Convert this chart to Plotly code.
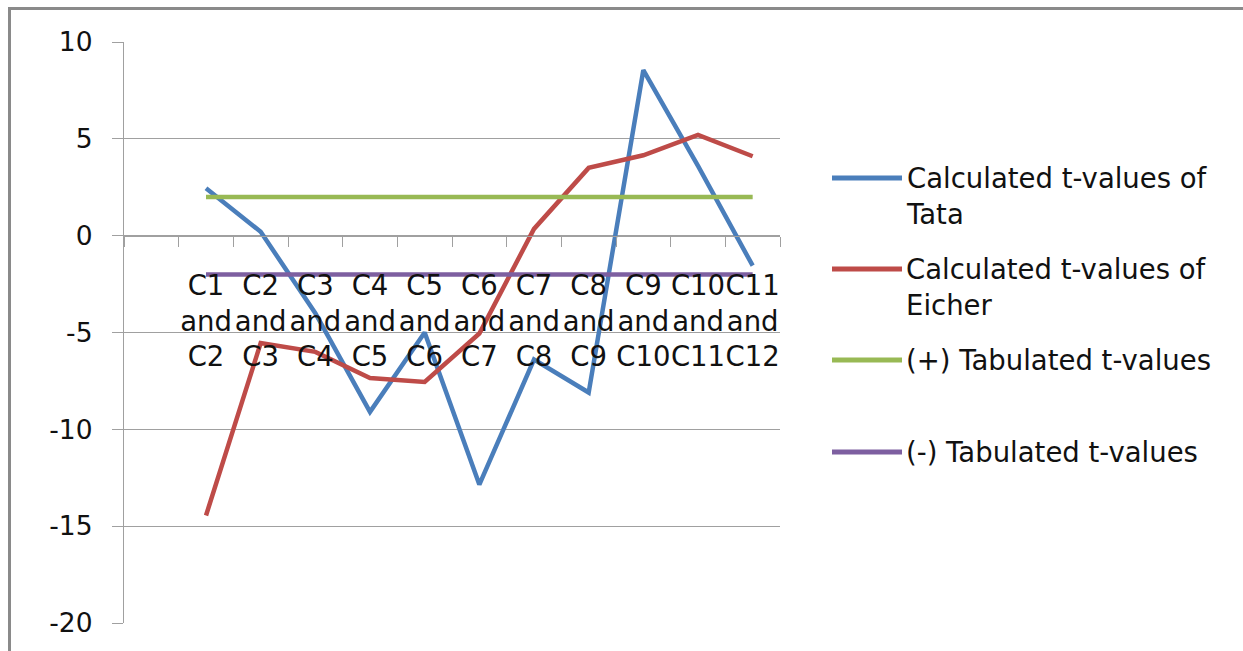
import plotly.graph_objects as go

# Comparison pairs on the category axis
pairs = ["C1<br>and<br>C2", "C2<br>and<br>C3", "C3<br>and<br>C4", "C4<br>and<br>C5",
         "C5<br>and<br>C6", "C6<br>and<br>C7", "C7<br>and<br>C8", "C8<br>and<br>C9",
         "C9<br>and<br>C10", "C10<br>and<br>C11", "C11<br>and<br>C12"]

tata_t = [2.45, 0.2, -4.0, -9.1, -5.0, -12.85, -6.4, -8.1, 8.55, 3.6, -1.55]
eicher_t = [-14.45, -5.55, -6.0, -7.35, -7.55, -5.05, 0.35, 3.5, 4.15, 5.2, 4.1]
tab_pos = [2.0] * len(pairs)
tab_neg = [-2.0] * len(pairs)

series_names = ["Calculated t-values of<br>Tata", "Calculated t-values of<br>Eicher",
                "(+) Tabulated t-values", "(-) Tabulated t-values"]
series_values = [tata_t, eicher_t, tab_pos, tab_neg]
series_colors = ["#4A7EBB", "#BE4B48", "#98B954", "#7D5FA0"]

y_ticks = [10, 5, 0, -5, -10, -15, -20]
y_tick_text = ["10", "5", "0", "-5", "-10", "-15", "-20"]

W, H = 1243, 651
L, R, T, B = 124, 780, 42, 623
FONT = "DejaVu Sans"
GRID = "#A0A0A0"


def px(x):
    return (x - L) / (R - L)


def py(y):
    return (B - y) / (B - T)


fig = go.Figure()
for name, vals, col in zip(series_names, series_values, series_colors):
    fig.add_trace(go.Scatter(x=pairs, y=vals, mode="lines", name=name,
                             line=dict(color=col, width=4.5), showlegend=False))

fig.update_layout(
    width=W, height=H,
    margin=dict(l=L, r=W - R, t=T, b=H - B),
    paper_bgcolor="white", plot_bgcolor="white",
    font=dict(family=FONT, size=26, color="#111111"),
    xaxis=dict(
        type="category", categoryorder="array", categoryarray=[" "] + pairs,
        range=[-0.5, len(pairs) + 0.5],
        anchor="free", position=20 / 30,
        showline=True, linecolor=GRID, linewidth=1.3,
        showgrid=False, zeroline=False,
        ticks="outside", ticklen=10, tickcolor=GRID, tickwidth=1.3,
        tickson="boundaries", tickangle=0,
        tickfont=dict(family=FONT, size=27.5, color="#111111"),
        ticklabelstandoff=25,
    ),
    yaxis=dict(
        range=[-20, 10], tickvals=y_ticks, ticktext=y_tick_text,
        showline=True, linecolor=GRID, linewidth=1.3,
        showgrid=True, gridcolor=GRID, gridwidth=1.3,
        zeroline=False,
        ticks="outside", ticklen=11, tickcolor=GRID, tickwidth=1.3,
        tickfont=dict(family=FONT, size=26.5, color="#111111"),
        ticklabelstandoff=14,
    ),
)

# Legend drawn at the right of the plot
legend_rows = [(178, 195.5), (269, 286.5), (360, 360), (452, 452)]
for (line_y, text_y), name, col in zip(legend_rows, series_names, series_colors):
    fig.add_shape(type="line", xref="paper", yref="paper",
                  x0=px(832), x1=px(902), y0=py(line_y), y1=py(line_y),
                  line=dict(color=col, width=5))
    fig.add_annotation(xref="paper", yref="paper", x=px(904), y=py(text_y),
                       xanchor="left", yanchor="middle", align="left",
                       text=name, showarrow=False,
                       font=dict(family=FONT, size=27.5, color="#111111"))

# Outer chart frame
fig.add_shape(type="rect", xref="paper", yref="paper",
              x0=px(9.5), x1=px(1260), y0=py(8.5), y1=py(680),
              line=dict(color="#8A8A8A", width=3), layer="below")

fig.write_html("out.html")
